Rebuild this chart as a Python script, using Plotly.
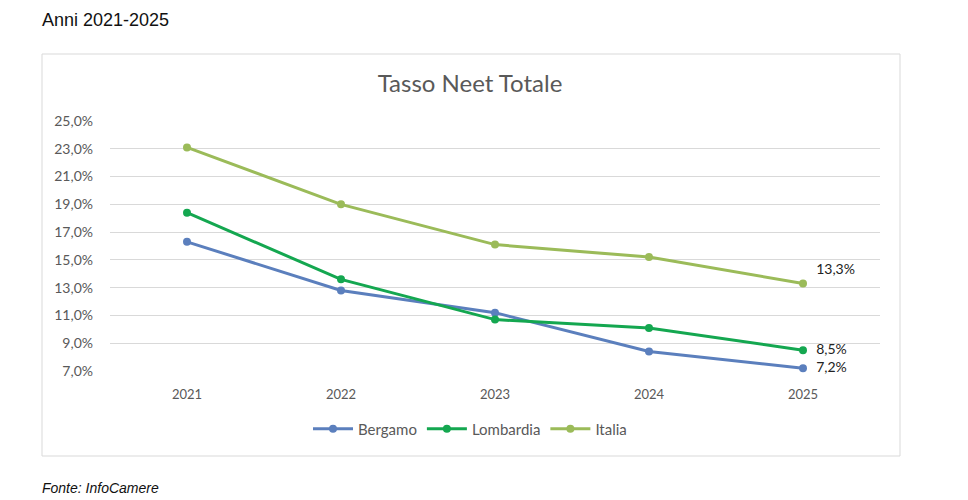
import plotly.graph_objects as go

years = ["2021", "2022", "2023", "2024", "2025"]
bergamo = [16.3, 12.8, 11.2, 8.4, 7.2]
lombardia = [18.4, 13.6, 10.7, 10.1, 8.5]
italia = [23.1, 19.0, 16.1, 15.2, 13.3]
series = [("Bergamo", bergamo, "#5B7FBD", "middle right"),
          ("Lombardia", lombardia, "#14A750", "middle right"),
          ("Italia", italia, "#9BBB59", "top right")]
yticks = [7, 9, 11, 13, 15, 17, 19, 21, 23, 25]

FONT = "Lato"
fig = go.Figure()
for name, vals, col, pos in series:
    labels = ["" for _ in vals[:-1]] + ["  " + f"{vals[-1]:.1f}%".replace(".", ",")]
    fig.add_trace(go.Scatter(
        x=years, y=vals, name=name, mode="lines+markers+text",
        line=dict(color=col, width=3), marker=dict(color=col, size=8),
        text=labels, textposition=pos,
        textfont=dict(family=FONT, size=14, color="#222222"),
        cliponaxis=False,
    ))

fig.update_layout(
    width=968, height=500,
    margin=dict(l=110, r=88, t=121, b=129),
    paper_bgcolor="white", plot_bgcolor="white",
    font=dict(family=FONT, color="#595959", size=12),
    title=dict(text="Tasso Neet Totale", x=470 / 968, xanchor="center",
               y=1 - 84 / 500, yanchor="middle", font=dict(size=24, color="#595959", family=FONT)),
    xaxis=dict(type="category", range=[-0.5, 4.5], showgrid=False, showline=False, zeroline=False, ticks="",
               tickfont=dict(size=13, color="#595959"), ticklabelstandoff=14),
    yaxis=dict(range=[7, 25], tickvals=yticks,
               ticktext=[f"{v:.1f}%".replace(".", ",") for v in yticks],
               gridcolor="#D9D9D9", gridwidth=1, zeroline=False, showline=False,
               tickfont=dict(size=14, color="#595959"), ticklabelstandoff=16),
    legend=dict(orientation="h", x=(470 - 110) / 770, xanchor="center", y=(371 - 429) / 250,
                yanchor="middle", font=dict(size=15, color="#595959"), itemwidth=40,
                traceorder="normal"),
    showlegend=True,
)

fig.add_shape(type="rect", xref="paper", yref="paper",
              x0=(42 - 110) / 770, x1=(900 - 110) / 770,
              y0=(371 - 456) / 250, y1=(371 - 54) / 250,
              line=dict(color="#D9D9D9", width=1), fillcolor="rgba(0,0,0,0)", layer="below")

fig.add_annotation(text="Anni 2021-2025", xref="paper", yref="paper",
                   x=(40 - 110) / 770, y=(371 - 20) / 250, xanchor="left", yanchor="middle",
                   showarrow=False, font=dict(family="Liberation Sans", size=18, color="#111111"))
fig.add_annotation(text="<i>Fonte: InfoCamere</i>", xref="paper", yref="paper",
                   x=(40 - 110) / 770, y=(371 - 488) / 250, xanchor="left", yanchor="middle",
                   showarrow=False, font=dict(family="Liberation Sans", size=14, color="#111111"))

fig.write_html("out.html")
